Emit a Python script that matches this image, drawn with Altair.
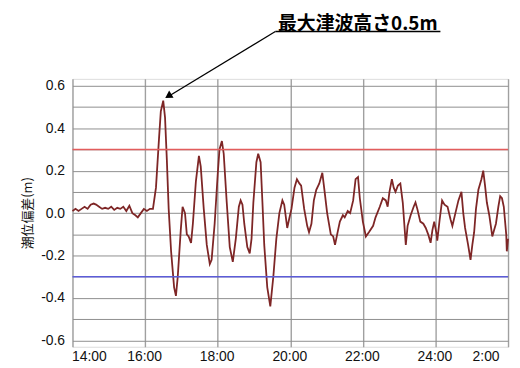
import altair as alt
import pandas as pd

# ---- time series (minutes after 14:00, tide deviation in m) ----
minutes = [0, 5, 10, 15, 20, 25, 30, 35, 39, 44, 49, 54, 59, 64, 69, 74, 79, 84, 89, 94,
           99, 104, 108, 113, 118, 123, 128, 133, 138, 143, 146, 150, 153, 156, 159, 163,
           168, 171, 174, 179, 182, 186, 189, 192, 196, 199, 204, 209, 212, 217, 222, 227,
           230, 235, 240, 243, 247, 250, 255, 260, 265, 270, 275, 278, 281, 284, 289, 293,
           296, 299, 304, 307, 311, 314, 317, 322, 327, 332, 337, 342, 347, 350, 355, 358,
           362, 367, 371, 375, 378, 383, 388, 391, 395, 399, 403, 408, 413, 416, 421, 427,
           431, 434, 439, 442, 447, 450, 455, 459, 464, 468, 472, 475, 480, 485, 490, 497,
           501, 508, 513, 518, 521, 524, 528, 531, 534, 538, 542, 546, 551, 554, 559, 564,
           567, 570, 575, 580, 584, 588, 592, 595, 598, 602, 603, 607, 611, 615, 620, 625,
           628, 633, 638, 643, 646, 649, 654, 658, 661, 664, 667, 671, 676, 679, 682, 685,
           689, 694, 697, 700, 704, 707, 710, 713, 717, 718, 720]
deviation = [0.01, 0.02, 0.01, 0.02, 0.03, 0.02, 0.04, 0.045, 0.04, 0.03, 0.02, 0.025, 0.02,
             0.03, 0.015, 0.025, 0.02, 0.03, 0.01, 0.035, 0.0, -0.01, -0.02, 0.0, 0.02, 0.01,
             0.02, 0.02, 0.12, 0.35, 0.48, 0.53, 0.45, 0.25, 0.02, -0.18, -0.35, -0.39, -0.30,
             -0.08, 0.03, 0.0, -0.10, -0.11, -0.14, -0.05, 0.15, 0.27, 0.22, 0.02, -0.15, -0.24,
             -0.22, -0.05, 0.18, 0.30, 0.34, 0.28, 0.05, -0.16, -0.23, -0.12, 0.03, 0.06, 0.04,
             -0.05, -0.16, -0.19, -0.12, 0.05, 0.24, 0.28, 0.24, 0.05, -0.15, -0.35, -0.44,
             -0.30, -0.12, 0.0, 0.06, 0.04, -0.07, -0.03, 0.02, 0.12, 0.16, 0.14, 0.13, 0.02,
             -0.06, -0.09, -0.05, 0.06, 0.11, 0.14, 0.19, 0.12, 0.0, -0.10, -0.11, -0.15, -0.08,
             -0.04, -0.01, -0.02, 0.01, 0.0, 0.06, 0.16, 0.17, 0.07, -0.04, -0.11, -0.09, -0.06,
             -0.02, 0.03, 0.07, 0.06, 0.03, 0.10, 0.16, 0.12, 0.10, 0.13, 0.14, 0.05, -0.15,
             -0.06, -0.01, 0.03, 0.05, 0.02, -0.04, -0.05, -0.07, -0.10, -0.14, -0.08, -0.04,
             -0.10, -0.13, -0.03, 0.06, 0.04, 0.03, -0.03, -0.06, 0.0, 0.06, 0.10, 0.0, -0.07,
             -0.15, -0.22, -0.15, -0.09, 0.02, 0.11, 0.16, 0.20, 0.13, 0.05, -0.01, -0.11, -0.08,
             -0.05, 0.03, 0.08, 0.07, 0.03, -0.10, -0.18, -0.12]

# ---- reference levels ----
level_values = [0.3, -0.3]
level_colors = ["#e25c5c", "#5c5cd8"]

# ---- axis ticks ----
x_ticks = [14, 16, 18, 20, 22, 24, 26]
y_ticks = [-0.6, -0.5, -0.4, -0.3, -0.2, -0.1, 0.0, 0.1, 0.2, 0.3, 0.4, 0.5, 0.6]
y_grid_color = "#8f8f8f"

# ---- annotation (hour, value) ----
ann_label = ["最大津波高さ0.5m"]
ann_text_pos = [21.86, 0.862]
ann_start = [19.589, 0.856]
ann_line_end = [16.66, 0.552]
ann_head = [16.64, 0.552]
ann_underline_end = [24.137, 0.856]

df = pd.DataFrame({"hour": [14 + m / 60 for m in minutes], "dev": deviation})
levels_df = pd.DataFrame({"v": level_values, "c": level_colors})

x_scale = alt.Scale(domain=[14, 26], nice=False, zero=False)
y_scale = alt.Scale(domain=[-0.63, 0.633], nice=False, zero=False)

x_axis = alt.Axis(
    values=x_ticks,
    labelExpr="(datum.value > 24 ? datum.value - 24 : datum.value) + ':00'",
    title=None, ticks=False, domain=False, grid=True,
    gridColor="#a0a0a0", gridWidth=1.4,
    labelFont="Liberation Sans", labelFontSize=14, labelColor="#111",
    labelPadding=3,
    labelOffset=alt.condition("datum.value == 26", alt.value(-9), alt.value(-1)),
)
y_axis = alt.Axis(
    values=y_ticks, tickCount=13,
    labelExpr="(abs(round(datum.value*10)) % 2 == 0) ? ((datum.value < -0.001 ? '-' : '') + format(abs(datum.value), '.1f')) : ''",
    title="潮位偏差(m)", titleFont="Noto Sans CJK JP", titleFontSize=13,
    titleFontWeight="normal", titleColor="#111", titlePadding=6,
    ticks=False, domain=False, grid=True, gridColor=y_grid_color, gridWidth=1.0,
    gridOpacity=1,
    labelFont="Liberation Sans", labelFontSize=14, labelColor="#111", labelPadding=8,
)

series = alt.Chart(df).mark_line(color="#7e2626", strokeWidth=1.8).encode(
    x=alt.X("hour:Q", scale=x_scale, axis=x_axis),
    y=alt.Y("dev:Q", scale=y_scale, axis=y_axis),
)

level_rules = alt.Chart(levels_df).mark_rule(strokeWidth=1.5).encode(
    y=alt.Y("v:Q", scale=y_scale, axis=y_axis),
    color=alt.Color("c:N", scale=None),
)

ann_df = pd.DataFrame({
    "x": [ann_start[0]], "y": [ann_start[1]],
    "x2": [ann_line_end[0]], "y2": [ann_line_end[1]],
    "ux2": [ann_underline_end[0]],
    "hx": [ann_head[0]], "hy": [ann_head[1]],
    "tx": [ann_text_pos[0]], "ty": [ann_text_pos[1]],
    "label": ann_label,
})

arrow_line = alt.Chart(ann_df).mark_rule(color="black", strokeWidth=1.3, clip=False).encode(
    x=alt.X("x:Q", scale=x_scale, axis=x_axis), y=alt.Y("y:Q", scale=y_scale, axis=y_axis),
    x2="x2:Q", y2="y2:Q",
)
arrow_head = alt.Chart(ann_df).mark_point(
    shape="triangle-up", filled=True, color="black", size=70, angle=238, opacity=1, clip=False
).encode(x=alt.X("hx:Q", scale=x_scale, axis=x_axis), y=alt.Y("hy:Q", scale=y_scale, axis=y_axis))
underline = alt.Chart(ann_df).mark_rule(color="black", strokeWidth=1.5, clip=False).encode(
    x=alt.X("x:Q", scale=x_scale, axis=x_axis), x2="ux2:Q",
    y=alt.Y("y:Q", scale=y_scale, axis=y_axis),
)
ann_text = alt.Chart(ann_df).mark_text(
    font="Noto Sans CJK JP", fontSize=19, fontWeight="bold", color="black",
    align="center", baseline="alphabetic", clip=False,
).encode(x=alt.X("tx:Q", scale=x_scale, axis=x_axis),
         y=alt.Y("ty:Q", scale=y_scale, axis=y_axis), text="label:N")

chart = alt.layer(series, level_rules, arrow_line, arrow_head, underline, ann_text).properties(
    width=439, height=270,
    autosize="none",
    padding={"left": 65, "top": 70, "right": 4, "bottom": 20},
).configure_view(stroke="#a8a8a8", strokeWidth=1.2).configure(background="white")

chart.save("out.html", embed_options={"renderer": "svg", "actions": False})
